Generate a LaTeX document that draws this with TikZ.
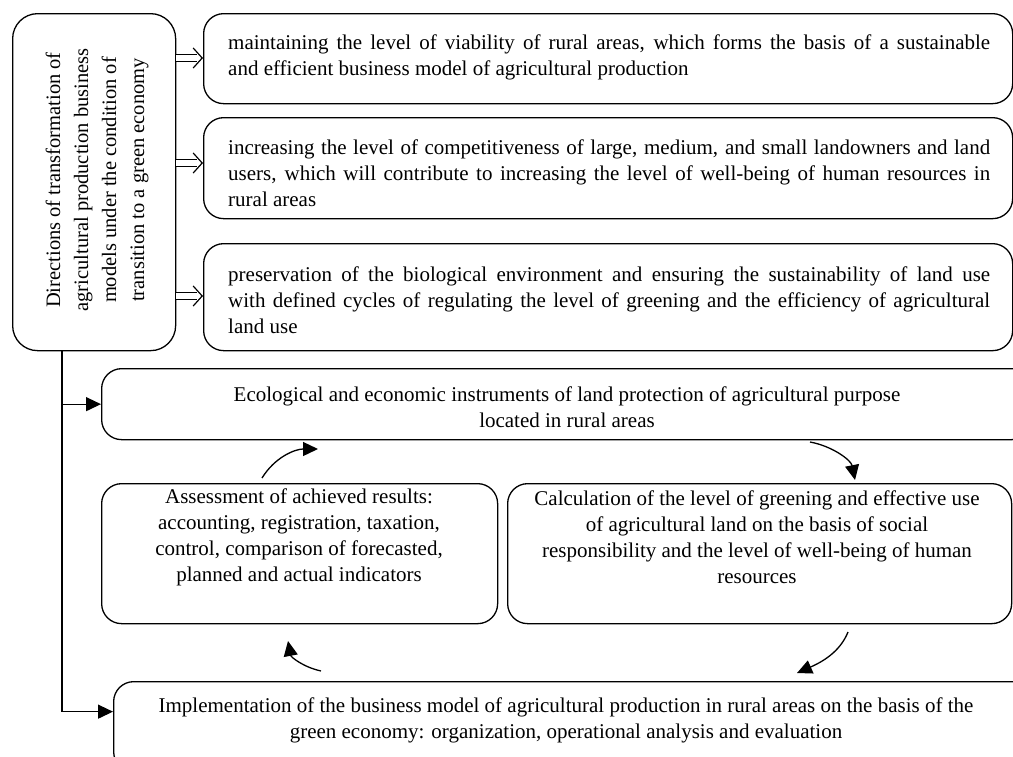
\documentclass[tikz,border=0pt]{standalone}
\usepackage{fontspec}
\setmainfont{Liberation Serif}
\usetikzlibrary{arrows.meta}
\newcommand{\jline}[1]{\makebox[762pt][s]{#1}}
\begin{document}
\begin{tikzpicture}[x=1pt,y=-1pt,
  box/.style={draw, line width=1.3pt, rounded corners=20pt, inner sep=0pt, anchor=north west},
  txt/.style={font=\fontsize{21}{26}\selectfont, inner sep=0pt},
  tri/.style={-{Triangle[length=15pt,width=14pt]}},
  ln/.style={line width=1.3pt},
  dshaft/.style={line width=1.2pt, double distance=6pt},
  dhead/.style={line width=1.2pt, -{Straight Barb[length=9pt,width=20pt,line width=1.2pt]}}]
\useasboundingbox (0,0) rectangle (1013,756);
% boxes
\node[box, rounded corners=25pt, minimum width=163pt, minimum height=337pt] (L) at (12,13) {};
\node[box, minimum width=809pt, minimum height=90pt] (b1) at (203,13) {};
\node[box, minimum width=809pt, minimum height=101pt] (b2) at (203,117) {};
\node[box, minimum width=809pt, minimum height=107pt] (b3) at (203,243) {};
\node[box, minimum width=930pt, minimum height=71pt] (eco) at (101,368) {};
\node[box, minimum width=396pt, minimum height=140pt] (as) at (101,483) {};
\node[box, minimum width=504pt, minimum height=140pt] (ca) at (507,483) {};
\node[box, minimum width=920pt, minimum height=90pt] (im) at (113,681) {};
% texts
\node[txt, font=\fontsize{20.5}{28}\selectfont, rotate=90, align=center] (Lt) at (97,180) {Directions of transformation of\\agricultural production business\\models under the condition of\\transition to a green economy};
\node[txt, anchor=west, align=left] (t1) at (228,57) {\jline{maintaining the level of viability of rural areas, which forms the basis of a sustainable}\\and efficient business model of agricultural production};
\node[txt, anchor=west, align=left] (t2) at (228,173) {\jline{increasing the level of competitiveness of large, medium, and small landowners and land}\\\jline{users, which will contribute to increasing the level of well-being of human resources in}\\rural areas};
\node[txt, anchor=west, align=left] (t3) at (228,300) {\jline{preservation of the biological environment and ensuring the sustainability of land use}\\\jline{with defined cycles of regulating the level of greening and the efficiency of agricultural}\\land use};
\node[txt, align=center] (te) at (567,407) {Ecological and economic instruments of land protection of agricultural purpose\\located in rural areas};
\node[txt, align=center] (ta) at (299,537) {Assessment of achieved results:\\accounting, registration, taxation,\\control, comparison of forecasted,\\planned and actual indicators};
\node[txt, align=center] (tc) at (757,537) {Calculation of the level of greening and effective use\\of agricultural land on the basis of social\\responsibility and the level of well-being of human\\resources};
\node[txt, align=center] (ti) at (566,720) {Implementation of the business model of agricultural production in rural areas on the basis of the\\green economy: organization, operational analysis and evaluation};
% double arrows
\coordinate (y1) at (0,58);
\coordinate (y2) at (0,163);
\coordinate (y3) at (0,296);
\foreach \yy/\bb in {y1/b1, y2/b2, y3/b3}{
  \draw[dshaft] (L.east |- \yy) -- ([xshift=-6pt]\bb.west |- \yy);
  \draw[dhead] ([xshift=-2pt]\bb.west |- \yy) -- (\bb.west |- \yy);
}
% left connectors
\coordinate (vx) at (62,0);
\draw[ln, tri] (L.south -| vx) |- ([yshift=15pt]im.west);
\draw[ln, tri] (vx |- eco.west) -- (eco.west);
% curved cycle arrows
\coordinate (c1s) at (262,478);
\coordinate (c1e) at (318,449);
\draw[ln, tri] (c1s) .. controls (275,457) and (295,449) .. (c1e);
\coordinate (c2s) at (810,442);
\coordinate (c2e) at (855,480);
\draw[ln, tri] (c2s) .. controls (832,446) and (851,460) .. (c2e);
\coordinate (c3s) at (848,632);
\coordinate (c3e) at (797,673);
\draw[ln, tri] (c3s) .. controls (840,652) and (822,662) .. (c3e);
\coordinate (c4s) at (321,671);
\coordinate (c4e) at (288,641);
\draw[ln, tri] (c4s) .. controls (303,667) and (291,657) .. (c4e);
\end{tikzpicture}
\end{document}
